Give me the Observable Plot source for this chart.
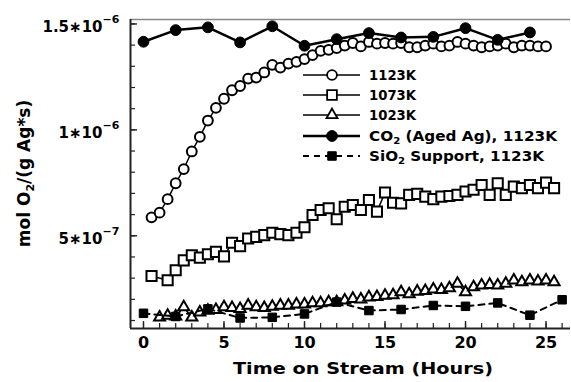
<!DOCTYPE html>
<html><head><meta charset="utf-8">
<script src="https://cdn.jsdelivr.net/npm/d3@7"></script>
<script src="https://cdn.jsdelivr.net/npm/@observablehq/plot@0.6"></script>
<style>
html,body{margin:0;padding:0;background:#fff;}
#chart{width:571px;height:382px;}
</style></head><body><div id="chart"></div>
<script>
// Rates are in units of 1e-7 mol O2/(g Ag*s); time in hours
const hours1123 = [0.5,1,1.5,2,2.5,3,3.5,4,4.5,5,5.5,6,6.5,7,7.5,8,8.5,9,9.5,10,10.5,11,11.5,12,12.5,13,13.5,14,14.5,15,15.5,16,16.5,17,17.5,18,18.5,19,19.5,20,20.5,21,21.5,22,22.5,23,23.5,24,24.5,25];
const rate1123 = [5.87,6.09,6.73,7.48,8.15,8.98,9.67,10.44,11.04,11.47,11.87,12.07,12.42,12.47,12.71,13.07,12.94,13.13,13.21,13.34,13.53,13.73,13.78,13.86,13.98,14.1,13.94,14.15,14.07,14.1,14.07,14.1,13.9,13.9,13.98,14.07,13.94,13.98,14.15,14.07,13.98,13.9,13.94,13.98,14.07,13.9,13.98,13.98,13.94,13.94];

const hours1073 = [0.5,1.5,2,2.5,3,3.5,4,4.5,5,5.5,6,6.5,7,7.5,8,8.5,9,9.5,10,10.5,11,11.5,12,12.5,13,13.5,14,14.5,15,15.5,16,16.5,17,17.5,18,18.5,19,19.5,20,20.5,21,21.5,22,22.5,23,23.5,24,24.5,25,25.5];
const rate1073 = [3.1,2.9,3.37,3.84,4.08,3.97,4.13,4.24,4.03,4.67,4.51,4.87,4.95,5.03,5.14,5.08,5.03,5.14,5.4,5.98,6.22,6.3,5.78,6.37,6.45,6.22,6.69,6.14,7.04,6.56,6.53,6.93,6.98,6.85,6.73,6.85,6.88,6.93,7.09,7.17,7.4,6.93,7.48,6.93,7.32,7.25,7.4,7.25,7.51,7.25];

const hours1023 = [1,1.5,2,2.5,3,3.5,4,4.5,5,5.5,6,6.5,7,7.5,8,8.5,9,9.5,10,10.5,11,11.5,12,12.5,13,13.5,14,14.5,15,15.5,16,16.5,17,17.5,18,18.5,19,19.5,20,20.5,21,21.5,22,22.5,23,23.5,24,24.5,25,25.5];
const rate1023 = [1.15,1.23,1.2,1.63,1.15,1.39,1.47,1.5,1.63,1.6,1.55,1.71,1.63,1.6,1.66,1.71,1.71,1.76,1.76,1.82,1.82,1.87,1.87,1.95,2.03,2.0,2.1,2.12,2.18,2.2,2.34,2.25,2.37,2.4,2.47,2.45,2.53,2.74,2.34,2.58,2.66,2.69,2.66,2.74,2.9,2.81,2.9,2.85,2.9,2.81];

const hoursCO2 = [0,2,4,6,8,10,12,14,16,18,20,22,24];
const rateCO2 = [14.16,14.71,14.84,14.13,14.89,13.97,14.28,14.57,14.36,14.39,14.8,14.25,14.6];

const hoursSiO2 = [0,2,4,6,8,10,12,14,16,18,20,22,24,26];
const rateSiO2 = [1.34,1.19,1.55,1.12,1.15,1.31,1.87,1.47,1.52,1.71,1.67,1.83,1.25,1.98];

const xMinorTicks = [0,1,2,3,4,5,6,7,8,9,10,11,12,13,14,15,16,17,18,19,20,21,22,23,24,25,26];
const xTickLabels = [0,5,10,15,20,25];
const yMinorTicks = [1,2,3,4,5,6,7,8,9,10,11,12,13,14,15];
const yTickValues = [5,10,15];
const yTickMantissa = ["5∗10","1∗10","1.5∗10"];
const yTickExponent = ["−7","−6","−6"];

const legendLabels = ["1123K","1073K","1023K","CO₂ (Aged Ag), 1123K","SiO₂ Support, 1123K"];

const tbl = (hs, rs) => hs.map((t, i) => ({t, r: rs[i]}));
const d1123 = tbl(hours1123, rate1123);
const d1073 = tbl(hours1073, rate1073);
const d1023 = tbl(hours1023, rate1023);
const dCO2 = tbl(hoursCO2, rateCO2);
const dSiO2 = tbl(hoursSiO2, rateSiO2);

const W = 571, H = 382, mL = 130, mR = 1, mT = 19, mB = 54;
const frameW = W - mL - mR, frameH = H - mT - mB;
const xDomain = [-0.807, 26.52], yDomain = [0.623, 15.21];

const openSym = {fill: "white", stroke: "black", strokeWidth: 2};
const chart = Plot.plot({
  width: W, height: H,
  marginLeft: mL, marginRight: mR, marginTop: mT, marginBottom: mB,
  x: {domain: xDomain, axis: null},
  y: {domain: yDomain, axis: null},
  style: {fontFamily: "DejaVu Sans", background: "white", color: "black", overflow: "visible"},
  marks: [
    Plot.tickX(xMinorTicks, {x: d => d, insetTop: frameH - 5, stroke: "#222", strokeWidth: 1.2}),
    Plot.tickX(xTickLabels, {x: d => d, insetTop: frameH - 7, stroke: "#222", strokeWidth: 1.4}),
    Plot.tickY(yMinorTicks, {y: d => d, insetRight: frameW - 5, stroke: "#222", strokeWidth: 1.2}),
    Plot.tickY(yTickValues, {y: d => d, insetRight: frameW - 7, stroke: "#222", strokeWidth: 1.4}),
    Plot.ruleY([yDomain[1]], {stroke: "#888", strokeWidth: 1.5}),
    Plot.ruleX([xDomain[0]], {stroke: "#222", strokeWidth: 2}),
    Plot.ruleY([yDomain[0]], {stroke: "#222", strokeWidth: 2}),
    Plot.text(xTickLabels, {x: d => d, frameAnchor: "bottom", dy: 19, text: d => String(d), fontSize: 16, fontWeight: "bold", fill: "black"}),
    Plot.text(yTickValues, {y: d => d, frameAnchor: "left", dx: -28, dy: 3, textAnchor: "end", text: (d, i) => yTickMantissa[i], fontSize: 15, fontWeight: "bold", fill: "black"}),
    Plot.text(yTickValues, {y: d => d, frameAnchor: "left", dx: -28, dy: -4, textAnchor: "start", text: (d, i) => yTickExponent[i], fontSize: 11, fontWeight: "bold", fill: "black"}),
    Plot.line(d1123, {x: "t", y: "r", stroke: "black", strokeWidth: 1.5}),
    Plot.line(d1073, {x: "t", y: "r", stroke: "black", strokeWidth: 1.5}),
    Plot.line(d1023, {x: "t", y: "r", stroke: "black", strokeWidth: 1.5}),
    Plot.dot(d1123, {x: "t", y: "r", r: 4.9, ...openSym}),
    Plot.dot(d1073, {x: "t", y: "r", symbol: "square", r: 5.7, ...openSym}),
    Plot.dot(d1023, {x: "t", y: "r", symbol: "triangle", r: 4.1, ...openSym}),
    Plot.line(dSiO2, {x: "t", y: "r", stroke: "black", strokeWidth: 2, strokeDasharray: "6,5"}),
    Plot.dot(dSiO2, {x: "t", y: "r", symbol: "square", r: 4.8, fill: "black", stroke: "black", strokeWidth: 1}),
    Plot.line(dCO2, {x: "t", y: "r", stroke: "black", strokeWidth: 2.5}),
    Plot.dot(dCO2, {x: "t", y: "r", r: 5.4, fill: "black", stroke: "black", strokeWidth: 1})
  ]
});
document.getElementById("chart").appendChild(chart);

const svg = d3.select(chart);
// axis titles
svg.append("text").attr("x", 363).attr("y", 374).attr("text-anchor", "middle")
  .attr("font-family", "DejaVu Sans").attr("font-size", 16).attr("font-weight", "bold").attr("fill", "black")
  .attr("textLength", 260).attr("lengthAdjust", "spacingAndGlyphs")
  .text("Time on Stream (Hours)");
const yt = svg.append("text").attr("transform", "translate(30,173.5) rotate(-90)").attr("text-anchor", "middle")
  .attr("font-family", "DejaVu Sans").attr("font-size", 17).attr("font-weight", "bold").attr("fill", "black");
yt.append("tspan").text("mol O");
yt.append("tspan").attr("font-size", 11).attr("dy", 4).text("2");
yt.append("tspan").attr("dy", -4).text("/(g Ag*s)");

// legend
const lg = svg.append("g").attr("text-anchor", "start");
const rowsY = [75, 95, 115, 136, 156];
const lineX0 = 303, lineX1 = 360, markX = 332, textX = 369;
const legendSpecs = [
  {sym: d3.symbolCircle, r: 4.9, fill: "white", sw: 1.8, dash: null, lw: 1.6},
  {sym: d3.symbolSquare, r: 5.5, fill: "white", sw: 1.8, dash: null, lw: 1.6},
  {sym: d3.symbolTriangle, r: 4.1, fill: "white", sw: 1.8, dash: null, lw: 1.6},
  {sym: d3.symbolCircle, r: 5.4, fill: "black", sw: 1, dash: null, lw: 2.5},
  {sym: d3.symbolSquare, r: 4.8, fill: "black", sw: 1, dash: "6,5", lw: 2}
];
const legendLengths = [47, 47, 47, 188, 175];
legendSpecs.forEach((s, i) => {
  const y = rowsY[i];
  const ln = lg.append("line").attr("x1", lineX0).attr("x2", lineX1).attr("y1", y).attr("y2", y)
    .attr("stroke", "black").attr("stroke-width", s.lw);
  if (s.dash) ln.attr("stroke-dasharray", s.dash);
  lg.append("path").attr("d", d3.symbol(s.sym, Math.PI * s.r * s.r)())
    .attr("transform", `translate(${markX},${y})`)
    .attr("fill", s.fill).attr("stroke", "black").attr("stroke-width", s.sw);
  const t = lg.append("text").attr("x", textX).attr("y", y + 5).attr("text-anchor", "start")
    .attr("font-family", "DejaVu Sans").attr("font-size", 13.5).attr("font-weight", "bold").attr("fill", "black")
    .attr("textLength", legendLengths[i]).attr("lengthAdjust", "spacingAndGlyphs");
  const label = legendLabels[i];
  const sub = label.indexOf("₂");
  if (sub >= 0) {
    t.append("tspan").text(label.slice(0, sub));
    t.append("tspan").attr("font-size", 9).attr("dy", 3).text("2");
    t.append("tspan").attr("dy", -3).text(label.slice(sub + 1));
  } else {
    t.text(label);
  }
});
</script>
</body></html>
